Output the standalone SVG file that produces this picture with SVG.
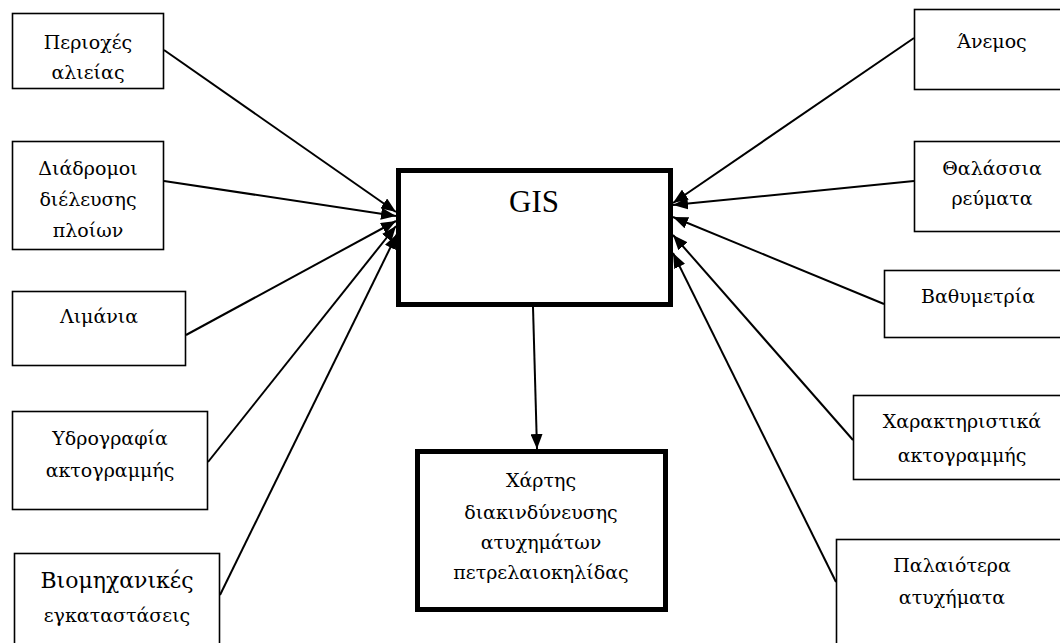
<svg xmlns="http://www.w3.org/2000/svg" width="1060" height="643" viewBox="0 0 1060 643">
  <style>
    .box { fill: #fff; stroke: #000; stroke-width: 1.6; }
    .main { fill: #fff; stroke: #000; stroke-width: 5; }
    .lbl { font-family: "DejaVu Serif", "Liberation Serif", serif; font-size: 19px; fill: #000; text-anchor: middle; }
    .big { font-size: 22px; }
    .title { font-family: "Liberation Serif", "Times New Roman", serif; font-size: 31px; }
    .edge { stroke: #000; stroke-width: 2; fill: none; marker-end: url(#head); }
  </style>
  <defs>
    <marker id="head" markerUnits="userSpaceOnUse" markerWidth="16" markerHeight="12" refX="15" refY="6" orient="auto">
      <path d="M0,0 L15,6 L0,12 Z" fill="#000"/>
    </marker>
  </defs>

  <rect width="1060" height="643" fill="#fff"/>

  <!-- connectors -->
  <g id="connectors">
    <line class="edge" x1="164" y1="50" x2="396" y2="212"/>
    <line class="edge" x1="164" y1="181" x2="396" y2="216"/>
    <line class="edge" x1="186" y1="335" x2="396" y2="221"/>
    <line class="edge" x1="208" y1="462" x2="396" y2="226"/>
    <line class="edge" x1="220" y1="595" x2="397" y2="234"/>
    <line class="edge" x1="914" y1="38" x2="673" y2="203"/>
    <line class="edge" x1="914" y1="181" x2="673" y2="205"/>
    <line class="edge" x1="884" y1="304" x2="673" y2="217"/>
    <line class="edge" x1="853" y1="440" x2="673" y2="235"/>
    <line class="edge" x1="836" y1="582" x2="673" y2="253"/>
    <line class="edge" x1="533" y1="307" x2="537" y2="449"/>
  </g>

  <!-- inputs, left column -->
  <g id="fishing-areas">
    <rect class="box" x="12.5" y="13.5" width="151" height="75"/>
    <text class="lbl" x="88" y="49">Περιοχές</text>
    <text class="lbl" x="88" y="79">αλιείας</text>
  </g>
  <g id="shipping-routes">
    <rect class="box" x="12.5" y="141.5" width="151" height="108"/>
    <text class="lbl" x="88" y="175">Διάδρομοι</text>
    <text class="lbl" x="88" y="206">διέλευσης</text>
    <text class="lbl" x="88" y="237">πλοίων</text>
  </g>
  <g id="ports">
    <rect class="box" x="12.5" y="291.5" width="173" height="74"/>
    <text class="lbl" x="99" y="323">Λιμάνια</text>
  </g>
  <g id="coastal-hydrography">
    <rect class="box" x="12.5" y="411.5" width="195" height="98"/>
    <text class="lbl" x="110" y="445">Υδρογραφία</text>
    <text class="lbl" x="110" y="477">ακτογραμμής</text>
  </g>
  <g id="industrial-sites">
    <rect class="box" x="14.5" y="553.5" width="205" height="100"/>
    <text class="lbl big" x="117" y="588">Βιομηχανικές</text>
    <text class="lbl" x="117" y="622">εγκαταστάσεις</text>
  </g>

  <!-- inputs, right column -->
  <g id="wind">
    <rect class="box" x="914.5" y="9.5" width="160" height="80"/>
    <text class="lbl" x="992" y="48">Άνεμος</text>
  </g>
  <g id="sea-currents">
    <rect class="box" x="914.5" y="141.5" width="160" height="90"/>
    <text class="lbl" x="992" y="175">Θαλάσσια</text>
    <text class="lbl" x="992" y="205">ρεύματα</text>
  </g>
  <g id="bathymetry">
    <rect class="box" x="884.5" y="270.5" width="190" height="67"/>
    <text class="lbl" x="978" y="303">Βαθυμετρία</text>
  </g>
  <g id="coastline-features">
    <rect class="box" x="853.5" y="395.5" width="220" height="84"/>
    <text class="lbl" x="962" y="428">Χαρακτηριστικά</text>
    <text class="lbl" x="962" y="462">ακτογραμμής</text>
  </g>
  <g id="past-accidents">
    <rect class="box" x="836.5" y="539.5" width="240" height="120"/>
    <text class="lbl" x="952" y="572">Παλαιότερα</text>
    <text class="lbl" x="952" y="604">ατυχήματα</text>
  </g>

  <!-- central processing -->
  <g id="gis">
    <rect class="main" x="398.5" y="170.5" width="272" height="134"/>
    <text class="lbl title" x="534" y="212">GIS</text>
  </g>

  <!-- result -->
  <g id="risk-map">
    <rect class="main" x="417.5" y="451.5" width="248" height="158"/>
    <text class="lbl" x="541" y="487">Χάρτης</text>
    <text class="lbl" x="541" y="519">διακινδύνευσης</text>
    <text class="lbl" x="541" y="549">ατυχημάτων</text>
    <text class="lbl" x="541" y="579">πετρελαιοκηλίδας</text>
  </g>
</svg>
